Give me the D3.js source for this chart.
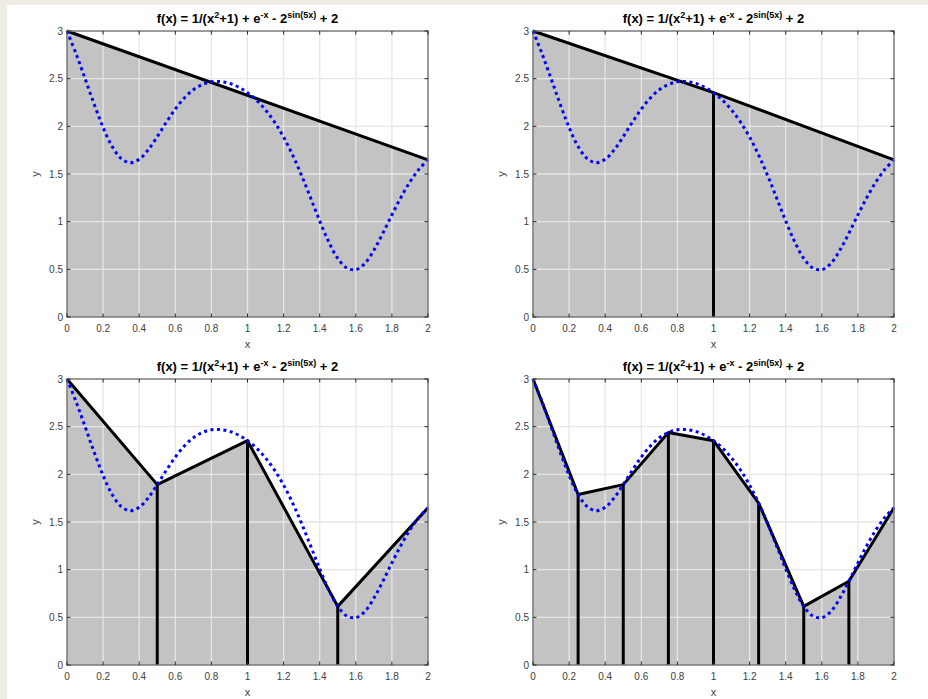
<!DOCTYPE html>
<html><head><meta charset="utf-8">
<script src="https://cdn.jsdelivr.net/npm/d3@7"></script>
<style>html,body{margin:0;padding:0;background:#efece3;}svg{display:block;}</style>
</head><body>
<svg id="c" width="928" height="699"></svg>
<script>
const curveX = [0,0.05,0.1,0.15,0.2,0.25,0.3,0.35,0.4,0.45,0.5,0.55,0.6,0.65,0.7,0.75,0.8,0.85,0.9,0.95,1.0,1.05,1.1,1.15,1.2,1.25,1.3,1.35,1.4,1.45,1.5,1.55,1.6,1.65,1.7,1.75,1.8,1.85,1.9,1.95,2.0];
const curveY = [3.0,2.762,2.501,2.235,1.988,1.789,1.662,1.618,1.654,1.754,1.892,2.042,2.181,2.297,2.384,2.439,2.467,2.470,2.451,2.412,2.353,2.274,2.172,2.044,1.887,1.699,1.483,1.247,1.008,0.788,0.615,0.514,0.497,0.561,0.700,0.879,1.071,1.255,1.417,1.549,1.649];
// trapezoid nodes for each panel
const nodesX1 = [0,2];
const nodesY1 = [3.0,1.649];
const nodesX2 = [0,1,2];
const nodesY2 = [3.0,2.353,1.649];
const nodesX4 = [0,0.5,1,1.5,2];
const nodesY4 = [3.0,1.892,2.353,0.615,1.649];
const nodesX8 = [0,0.25,0.5,0.75,1,1.25,1.5,1.75,2];
const nodesY8 = [3.0,1.789,1.892,2.439,2.353,1.699,0.615,0.879,1.649];
const xTicks = [0,0.2,0.4,0.6,0.8,1,1.2,1.4,1.6,1.8,2];
const yTicks = [0,0.5,1,1.5,2,2.5,3];
const xLabel = "x", yLabel = "y";

const svg = d3.select("#c");
svg.append("rect").attr("x",7).attr("y",5).attr("width",921).attr("height",694).attr("fill","#ffffff");

const panels = [
  {left:67, top:31, nx:nodesX1, ny:nodesY1},
  {left:533, top:31, nx:nodesX2, ny:nodesY2},
  {left:67, top:379, nx:nodesX4, ny:nodesY4},
  {left:533, top:379, nx:nodesX8, ny:nodesY8}
];
const W = 361, H = 286;
const font = "'Liberation Sans', Arial, Helvetica, sans-serif";

panels.forEach(p => {
  const g = svg.append("g").attr("transform", `translate(${p.left},${p.top})`);
  const x = d3.scaleLinear().domain([0,2]).range([0,W]);
  const y = d3.scaleLinear().domain([0,3]).range([H,0]);
  const nodes = p.nx.map((v,i)=>[v,p.ny[i]]);

  // filled trapezoids
  const poly = [[0,0]].concat(nodes).concat([[2,0]]);
  g.append("path").attr("d", d3.line().x(d=>x(d[0])).y(d=>y(d[1]))(poly)+"Z")
    .attr("fill","#c3c3c3");

  // grid
  g.selectAll(".gx").data(xTicks.slice(1,-1)).enter().append("line")
    .attr("x1",d=>x(d)).attr("x2",d=>x(d)).attr("y1",0).attr("y2",H)
    .attr("stroke","#e6e6e6").attr("stroke-width",1.3);
  g.selectAll(".gy").data(yTicks.slice(1,-1)).enter().append("line")
    .attr("y1",d=>y(d)).attr("y2",d=>y(d)).attr("x1",0).attr("x2",W)
    .attr("stroke","#e6e6e6").attr("stroke-width",1.3);

  // black trapezoid tops and verticals
  g.selectAll(".v").data(nodes.slice(1,-1)).enter().append("line")
    .attr("x1",d=>x(d[0])).attr("x2",d=>x(d[0])).attr("y1",y(0)).attr("y2",d=>y(d[1]))
    .attr("stroke","#000").attr("stroke-width",3);
  g.append("path").attr("d", d3.line().x(d=>x(d[0])).y(d=>y(d[1]))(nodes))
    .attr("fill","none").attr("stroke","#000").attr("stroke-width",3).attr("stroke-linejoin","round");

  // blue dotted curve
  const pts = curveX.map((v,i)=>[v,curveY[i]]);
  g.append("path").attr("d", d3.line().curve(d3.curveCatmullRom).x(d=>x(d[0])).y(d=>y(d[1]))(pts))
    .attr("fill","none").attr("stroke","#0000ff").attr("stroke-width",3).attr("stroke-dasharray","3,3.5");

  // box
  g.append("rect").attr("x",0).attr("y",0).attr("width",W).attr("height",H)
    .attr("fill","none").attr("stroke","#7a7a7a").attr("stroke-width",1.5);

  // ticks (inward, all sides)
  const tl = 3.5;
  xTicks.forEach(t=>{
    g.append("line").attr("x1",x(t)).attr("x2",x(t)).attr("y1",H).attr("y2",H-tl).attr("stroke","#262626").attr("stroke-width",1);
    g.append("line").attr("x1",x(t)).attr("x2",x(t)).attr("y1",0).attr("y2",tl).attr("stroke","#262626").attr("stroke-width",1);
    g.append("text").attr("x",x(t)).attr("y",H+15).attr("text-anchor","middle")
      .attr("font-family",font).attr("font-size",10).attr("fill","#404040").text(t);
  });
  yTicks.forEach(t=>{
    g.append("line").attr("y1",y(t)).attr("y2",y(t)).attr("x1",0).attr("x2",tl).attr("stroke","#262626").attr("stroke-width",1);
    g.append("line").attr("y1",y(t)).attr("y2",y(t)).attr("x1",W).attr("x2",W-tl).attr("stroke","#262626").attr("stroke-width",1);
    g.append("text").attr("x",-4).attr("y",y(t)+3.5).attr("text-anchor","end")
      .attr("font-family",font).attr("font-size",10).attr("fill","#404040").text(t);
  });

  // axis labels
  g.append("text").attr("x",W/2).attr("y",H+31).attr("text-anchor","middle")
    .attr("font-family",font).attr("font-size",11).attr("fill","#404040").text(xLabel);
  g.append("text").attr("transform",`translate(-28,${H/2}) rotate(-90)`).attr("text-anchor","middle")
    .attr("font-family",font).attr("font-size",11).attr("fill","#404040").text(yLabel);

  // title
  const t = g.append("text").attr("x",W/2).attr("y",-8).attr("text-anchor","middle")
    .attr("font-family",font).attr("font-size",13).attr("font-weight","bold").attr("fill","#000");
  const parts = [["f(x) = 1/(x",0],["2",1],["+1) + e",0],["-x",1],[" - 2",0],["sin(5x)",1],[" + 2",0]];
  let prevSup = 0;
  parts.forEach(([s,sup])=>{
    const ts = t.append("tspan").text(s);
    if (sup !== prevSup) ts.attr("dy", sup ? -5 : 5);
    if (sup) ts.attr("font-size",9);
    prevSup = sup;
  });
});
</script>
</body></html>
